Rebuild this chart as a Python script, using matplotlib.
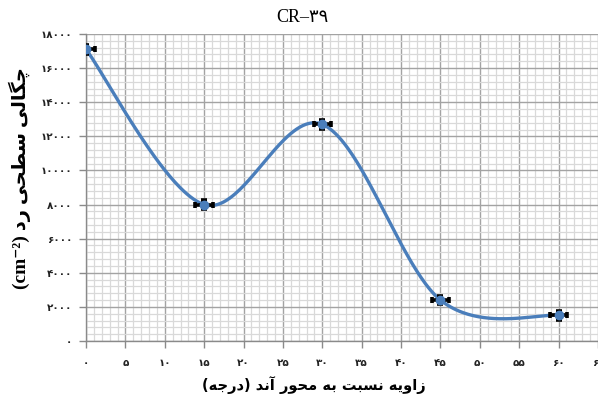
import numpy as np
import matplotlib
matplotlib.use("Agg")
import matplotlib.pyplot as plt
from matplotlib.ticker import MultipleLocator, FuncFormatter

# ---- data ----
angles = [0, 15, 30, 45, 60]
density = [17100, 8000, 12700, 2400, 1500]
x_err = [1.1, 1.1, 1.1, 1.1, 1.1]
y_err = [250, 250, 250, 250, 250]
title_text = "CR–۳۹"
xlabel_text = "زاویه نسبت به محور آند (درجه)"
ylabel_fa = "چگالی سطحی رد"
ylabel_unit = "(cm⁻²)"

# ---- minimal Persian shaping (matplotlib has no bidi/shaping) ----
FORMS = {
    'ا': ('\uFE8D', '\uFE8E', None, None),
    'آ': ('\uFE81', '\uFE82', None, None),
    'ب': ('\uFE8F', '\uFE90', '\uFE91', '\uFE92'),
    'ت': ('\uFE95', '\uFE96', '\uFE97', '\uFE98'),
    'ج': ('\uFE9D', '\uFE9E', '\uFE9F', '\uFEA0'),
    'ح': ('\uFEA1', '\uFEA2', '\uFEA3', '\uFEA4'),
    'د': ('\uFEA9', '\uFEAA', None, None),
    'ر': ('\uFEAD', '\uFEAE', None, None),
    'ز': ('\uFEAF', '\uFEB0', None, None),
    'س': ('\uFEB1', '\uFEB2', '\uFEB3', '\uFEB4'),
    'ط': ('\uFEC1', '\uFEC2', '\uFEC3', '\uFEC4'),
    'ل': ('\uFEDD', '\uFEDE', '\uFEDF', '\uFEE0'),
    'م': ('\uFEE1', '\uFEE2', '\uFEE3', '\uFEE4'),
    'ن': ('\uFEE5', '\uFEE6', '\uFEE7', '\uFEE8'),
    'ه': ('\uFEE9', '\uFEEA', '\uFEEB', '\uFEEC'),
    'و': ('\uFEED', '\uFEEE', None, None),
    'ی': ('\uFBFC', '\uFBFD', '\uFBFE', '\uFBFF'),
    'چ': ('\uFB7A', '\uFB7B', '\uFB7C', '\uFB7D'),
    'گ': ('\uFB92', '\uFB93', '\uFB94', '\uFB95'),
}


def shape(s):
    out = []
    n = len(s)
    for i, c in enumerate(s):
        if c not in FORMS:
            out.append(c)
            continue
        prev = s[i - 1] if i > 0 else ''
        nxt = s[i + 1] if i < n - 1 else ''
        jp = prev in FORMS and FORMS[prev][2] is not None
        jn = nxt in FORMS and FORMS[c][2] is not None
        iso, fin, ini, med = FORMS[c]
        if jp and jn:
            out.append(med)
        elif jp:
            out.append(fin)
        elif jn:
            out.append(ini)
        else:
            out.append(iso)
    return ''.join(out)


def visual(s):
    mirror = {'(': ')', ')': '('}
    return ''.join(mirror.get(c, c) for c in reversed(shape(s)))


FA_DIGITS = str.maketrans('0123456789', '۰۱۲۳۴۵۶۷۸۹')


def fa_num(v, pos=None):
    return str(int(round(v))).translate(FA_DIGITS)


# ---- smoothed line (Excel-like Catmull-Rom Bezier) ----
def smooth(x, y, n=80):
    P = np.column_stack([x, y]).astype(float)
    segs = []
    for i in range(len(P) - 1):
        p0 = P[i - 1] if i > 0 else P[i]
        p1, p2 = P[i], P[i + 1]
        p3 = P[i + 2] if i + 2 < len(P) else P[i + 1]
        c1 = p1 + (p2 - p0) / 6.0
        c2 = p2 - (p3 - p1) / 6.0
        t = np.linspace(0, 1, n)[:, None]
        seg = (1 - t) ** 3 * p1 + 3 * (1 - t) ** 2 * t * c1 + 3 * (1 - t) * t ** 2 * c2 + t ** 3 * p2
        segs.append(seg if i == 0 else seg[1:])
    return np.vstack(segs)


W, H = 598, 403
fig = plt.figure(figsize=(W / 100, H / 100), dpi=100)
ax = fig.add_axes([86 / W, 1 - 341 / H, (598 - 86) / W, (341 - 34) / H])

curve = smooth(angles, density)
blue = '#4a7ebb'
ax.plot(curve[:, 0], curve[:, 1], color=blue, lw=2.4, zorder=3, solid_capstyle='round')
ax.errorbar(angles, density, xerr=x_err, yerr=y_err, fmt='none', ecolor='black',
            elinewidth=2.6, capsize=2.0, capthick=2.6, zorder=4)
ax.plot(angles, density, 'o', color=blue, markersize=6, zorder=5)

ax.set_xlim(0, 65)
ax.set_ylim(0, 18000)
ax.xaxis.set_major_locator(MultipleLocator(5))
ax.xaxis.set_minor_locator(MultipleLocator(1))
ax.yaxis.set_major_locator(MultipleLocator(2000))
ax.yaxis.set_minor_locator(MultipleLocator(400))
ax.xaxis.set_major_formatter(FuncFormatter(fa_num))
ax.yaxis.set_major_formatter(FuncFormatter(fa_num))

ax.grid(which='minor', color='#d9d9d9', lw=0.9, zorder=0)
ax.grid(which='major', color='#a3a3a3', lw=1.0, zorder=1)
ax.set_axisbelow(True)
for s in ['top', 'right']:
    ax.spines[s].set_visible(False)
for s in ['left', 'bottom']:
    ax.spines[s].set_color('#8a8a8a')
    ax.spines[s].set_linewidth(1.0)
ax.tick_params(which='minor', length=0)
ax.tick_params(which='major', length=5, color='#8a8a8a', width=1.0, direction='out')
ax.tick_params(axis='y', pad=5)
ax.tick_params(axis='x', pad=7)
for lab in ax.get_xticklabels() + ax.get_yticklabels():
    lab.set_fontfamily('DejaVu Sans')
    lab.set_fontweight('bold')
    lab.set_fontsize(7.5)
    lab.set_color('#222222')

fig.text(302 / W, 1 - 18 / H, title_text, ha='center', va='center', fontsize=13,
         family=['Liberation Serif', 'DejaVu Sans'])
fig.text(314 / W, 1 - 385 / H, visual(xlabel_text), ha='center', va='center', fontsize=10.5,
         fontweight='bold', family=['DejaVu Sans'])
fig.text(20 / W, 1 - 178 / H, ylabel_unit + ' ' + visual(ylabel_fa), ha='center', va='center',
         rotation=90, fontsize=14, fontweight='bold', family=['Liberation Serif', 'DejaVu Sans'])

fig.savefig('out.png', dpi=100)
